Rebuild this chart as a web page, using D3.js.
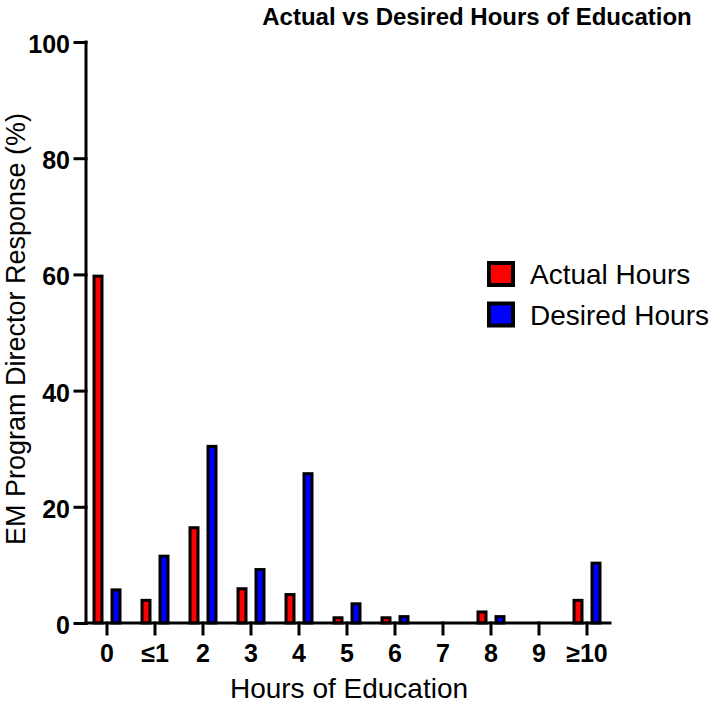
<!DOCTYPE html>
<html>
<head>
<meta charset="utf-8">
<script src="https://cdn.jsdelivr.net/npm/d3@7"></script>
<style>
  body { margin: 0; background: #fff; }
  svg { display: block; font-family: "Liberation Sans", Arial, sans-serif; }
</style>
</head>
<body>
<svg id="chart" width="709" height="704"></svg>
<script>
// Данные
const categories = ['0', '≤1', '2', '3', '4', '5', '6', '7', '8', '9', '≥10'];
const actualHours = [59.7, 3.9, 16.4, 5.9, 4.9, 0.9, 0.9, 0, 1.9, 0, 3.9];
const desiredHours = [5.7, 11.5, 30.4, 9.2, 25.7, 3.3, 1.1, 0, 1.1, 0, 10.3];
const seriesNames = ['Actual Hours', 'Desired Hours'];
const seriesColors = ['#ff0000', '#0000ff'];
const yTicks = [0, 20, 40, 60, 80, 100];

const svg = d3.select('#chart');

// Шкалы
const x = d3.scaleBand().domain(categories).range([83, 611]);
const y = d3.scaleLinear().domain([0, 100]).range([623, 42]);

const barW = 8;
const offset = 9;

// Столбцы
const series = [actualHours, desiredHours];
series.forEach((vals, si) => {
    svg.append('g')
        .selectAll('rect')
        .data(vals.map((v, i) => ({ cat: categories[i], v })).filter(d => d.v > 0))
        .enter().append('rect')
        .attr('x', d => x(d.cat) + x.bandwidth() / 2 + (si === 0 ? -offset : offset) - barW / 2)
        .attr('y', d => y(d.v))
        .attr('width', barW)
        .attr('height', d => y(0) - y(d.v))
        .attr('fill', seriesColors[si])
        .attr('stroke', '#000')
        .attr('stroke-width', 3);
});

// Ось Y
const yAxis = svg.append('g')
    .attr('transform', 'translate(86,0)')
    .call(d3.axisLeft(y).tickValues(yTicks).tickSize(11).tickPadding(5));
yAxis.select('.domain').attr('d', `M0,${y(100)}V${y(0)}`);
yAxis.selectAll('.tick text').attr('dy', '0.42em');

// Ось X
const xAxis = svg.append('g')
    .attr('transform', `translate(0,${y(0)})`)
    .call(d3.axisBottom(x).tickSize(11).tickPadding(10));
xAxis.select('.domain').attr('d', 'M86,0H610');

svg.selectAll('.domain, .tick line')
    .attr('stroke', '#000')
    .attr('stroke-width', 3)
    .attr('stroke-linecap', 'square');

svg.selectAll('.tick text')
    .attr('fill', '#000')
    .style('font-size', '25px')
    .style('font-weight', 'bold')
    .style('font-family', '"Liberation Sans", Arial, sans-serif');

// Заголовок
svg.append('text')
    .attr('x', 477)
    .attr('y', 25)
    .attr('text-anchor', 'middle')
    .style('font-size', '24px')
    .style('font-weight', 'bold')
    .text('Actual vs Desired Hours of Education');

// Подписи осей
svg.append('text')
    .attr('x', 349)
    .attr('y', 698)
    .attr('text-anchor', 'middle')
    .style('font-size', '28px')
    .text('Hours of Education');

svg.append('text')
    .attr('transform', `translate(25,329) rotate(-90)`)
    .attr('text-anchor', 'middle')
    .style('font-size', '27px')
    .text('EM Program Director Response (%)');

// Легенда
const legend = svg.append('g').attr('transform', 'translate(489,263)');
seriesNames.forEach((name, i) => {
    const row = legend.append('g').attr('transform', `translate(0,${i * 40.5})`);
    row.append('rect')
        .attr('width', 24)
        .attr('height', 22)
        .attr('fill', seriesColors[i])
        .attr('stroke', '#000')
        .attr('stroke-width', 4);
    row.append('text')
        .attr('x', 41)
        .attr('y', 21)
        .style('font-size', '28px')
        .text(name);
});
</script>
</body>
</html>
